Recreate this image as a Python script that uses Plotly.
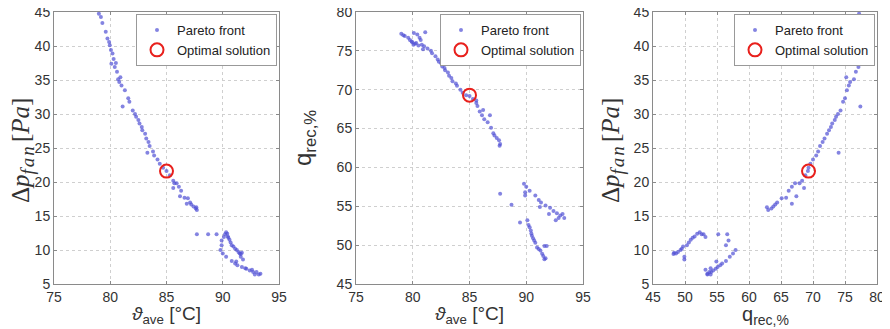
import plotly.graph_objects as go

# ---- data: Pareto front (each point: theta_ave, dp_fan, q_rec) ----
theta = [78.99, 79.17, 79.30, 79.60, 79.75, 79.90, 79.96, 80.06, 80.20, 80.30,
         80.10, 80.50, 80.40, 80.60, 80.70, 80.90, 80.80, 81.00, 81.30, 81.60,
         81.70, 81.10, 82.00, 82.20, 82.30, 82.50, 82.60, 82.80, 82.85, 83.10,
         83.20, 83.40, 83.50, 83.30, 83.80, 83.90, 84.20, 84.40, 84.70, 85.00,
         85.30, 85.60, 85.70, 85.90, 86.10, 85.60, 86.30, 86.20, 86.60, 86.90,
         86.80, 87.10, 87.20, 87.40, 87.60, 87.70, 87.65,
         87.70, 88.70, 89.45,
         89.90, 89.90, 89.80, 90.00, 90.30, 90.80, 91.10, 91.20, 91.30, 91.70,
         92.10, 92.00, 92.40, 92.70, 92.60, 93.00, 92.85, 93.20, 93.35,
         90.10, 90.20, 90.30, 90.40, 90.45, 90.50, 90.60, 90.70, 90.80, 90.95,
         91.10, 91.25, 91.40, 91.50, 91.70, 91.60, 91.60, 91.80]
dp_fan = [44.75, 44.26, 43.40, 42.10, 41.10, 40.60, 40.10, 39.40, 38.90, 38.10,
          37.40, 37.50, 36.90, 36.20, 35.10, 35.40, 34.70, 34.20, 33.50, 32.30,
          31.80, 31.10, 30.50, 30.00, 29.60, 29.10, 28.60, 28.10, 27.60, 27.10,
          26.40, 25.90, 25.30, 24.30, 24.50, 23.90, 23.30, 22.70, 22.10, 21.60,
          21.00, 20.20, 19.80, 19.80, 19.30, 19.10, 18.70, 17.90, 17.70, 17.60,
          16.80, 17.00, 16.70, 16.40, 16.10, 15.90, 16.30,
          12.30, 12.30, 12.30,
          11.40, 10.70, 10.00, 9.50, 9.00, 8.40, 8.00, 8.30, 7.75, 7.50,
          7.25, 7.30, 7.00, 6.75, 7.10, 6.75, 6.40, 6.40, 6.50,
          11.90, 12.30, 12.60, 12.40, 12.00, 11.80, 11.50, 11.10, 10.70, 10.50,
          10.20, 10.00, 9.70, 9.50, 9.60, 9.40, 9.00, 8.60]
q_rec = [77.2, 77.0, 76.9, 76.7, 76.4, 76.2, 76.1, 75.8, 75.9, 76.0,
         77.3, 75.7, 77.1, 76.7, 76.4, 75.2, 75.8, 75.6, 75.3, 75.0,
         74.7, 77.4, 74.3, 73.9, 73.6, 73.4, 73.0, 72.8, 72.5, 72.2,
         71.8, 71.5, 71.1, 74.0, 70.8, 70.5, 70.0, 69.6, 69.3, 69.2,
         68.8, 68.3, 67.9, 67.2, 66.7, 68.6, 66.2, 67.4, 65.8, 65.1,
         66.7, 64.4, 64.1, 63.8, 63.5, 63.0, 62.8,
         56.6, 55.2, 52.9,
         56.8, 56.4, 57.9, 57.5, 57.0, 56.4, 55.8, 54.9, 55.5, 55.1,
         54.8, 54.0, 54.4, 54.1, 53.2, 53.8, 53.5, 54.0, 53.5,
         53.2, 52.6, 52.3, 51.9, 51.5, 51.2, 50.9, 50.6, 50.3, 49.7,
         49.5, 49.3, 48.9, 48.6, 48.3, 48.2, 49.9, 49.9]

# optimal solution
opt_theta = [85.0]
opt_dp = [21.6]
opt_q = [69.3]

x_ticks_theta = [75, 80, 85, 90, 95]
x_ticks_q = [45, 50, 55, 60, 65, 70, 75, 80]
y_ticks_dp = [5, 10, 15, 20, 25, 30, 35, 40, 45]
y_ticks_q = [45, 50, 55, 60, 65, 70, 75, 80]

OFF = 8                      # default page margin of the html body
W, H = 890 - OFF, 329 - OFF
DOT = dict(color="rgba(80,80,212,0.7)", size=4)
RING = dict(color="#e8201c", size=13, symbol="circle-open",
            line=dict(color="#e8201c", width=2))
FONT = "Liberation Sans, Arial, sans-serif"
SERIF = "Liberation Serif, DejaVu Serif, serif"
TXT = "#333333"


def px(x):
    return (x - OFF) / W


def py(y):
    return (H - (y - OFF)) / H


panels = [
    (theta, dp_fan, opt_theta, opt_dp, "legend"),
    (theta, q_rec, opt_theta, opt_q, "legend2"),
    (q_rec, dp_fan, opt_q, opt_dp, "legend3"),
]

fig = go.Figure()
for i, (xs, ys, ox, oy, lg) in enumerate(panels):
    ax = "" if i == 0 else str(i + 1)
    fig.add_trace(go.Scatter(x=xs, y=ys, mode="markers", marker=DOT,
                             name="Pareto front", xaxis="x" + ax, yaxis="y" + ax,
                             legend=lg))
    fig.add_trace(go.Scatter(x=ox, y=oy, mode="markers", marker=RING,
                             name="Optimal solution", xaxis="x" + ax, yaxis="y" + ax,
                             legend=lg))

xdom = [(54, 279), (356, 583), (653, 877)]
ytop, ybot = 12, 284

axis_common = dict(showline=True, mirror="ticks", linecolor="#8a8a8a", linewidth=1,
                   showgrid=True, gridcolor="#cfcfcf", griddash="dot", gridwidth=1,
                   ticks="inside", ticklen=3, tickcolor="#8a8a8a",
                   tickfont=dict(family=FONT, size=14, color=TXT),
                   ticklabeloverflow="allow",
                   zeroline=False, automargin=False)

xlab_theta = "<i>ϑ</i><sub>ave</sub> [°C]"
xlab_q = "q<sub>rec,%</sub>"
ylab_dp = ("Δ<i>p</i><sub><span style='font-size:19px;letter-spacing:2px'><i>fan</i></span></sub>"
           "&#8202;[<i>Pa</i>]")
ylab_q = "q<sub>rec,%</sub>"

specs = [
    ([75, 95], x_ticks_theta, xlab_theta, FONT, 19, 315, [5, 45], y_ticks_dp, ylab_dp, SERIF, 25, 22, 151),
    ([75, 95], x_ticks_theta, xlab_theta, FONT, 19, 315, [45, 80], y_ticks_q, ylab_q, FONT, 24, 304, 138),
    ([45, 80], x_ticks_q, xlab_q, FONT, 20, 315, [5, 45], y_ticks_dp, ylab_dp, SERIF, 25, 612, 151),
]

layout = dict(width=W, height=H, margin=dict(l=0, r=0, t=0, b=0),
              paper_bgcolor="white", plot_bgcolor="white", showlegend=True)
annotations = []
for i, (xr, xt, xl, xf, xs, xly, yr, yt, yl, yf, ys, ylx, yly) in enumerate(specs):
    ax = "" if i == 0 else str(i + 1)
    layout["xaxis" + ax] = dict(axis_common, domain=[px(xdom[i][0]), px(xdom[i][1])],
                                range=xr, tickvals=xt, anchor="y" + ax)
    layout["yaxis" + ax] = dict(axis_common, domain=[py(ybot), py(ytop)], range=yr,
                                tickvals=yt, anchor="x" + ax)
    lg = "legend" if i == 0 else "legend" + str(i + 1)
    layout[lg] = dict(x=px(xdom[i][1] - 2), y=py(14), xanchor="right", yanchor="top",
                      bgcolor="white", bordercolor="#999999", borderwidth=1,
                      font=dict(family=FONT, size=13, color="#222222"),
                      itemsizing="trace", itemwidth=30, tracegroupgap=0)
    xc = (xdom[i][0] + xdom[i][1]) / 2
    annotations.append(dict(text=xl, x=px(xc), y=py(xly), xref="paper", yref="paper",
                            xanchor="center", yanchor="middle", showarrow=False,
                            font=dict(family=xf, size=xs, color=TXT)))
    annotations.append(dict(text=yl, x=px(ylx), y=py(yly), xref="paper", yref="paper",
                            xanchor="center", yanchor="middle", showarrow=False, textangle=-90,
                            font=dict(family=yf, size=ys, color=TXT)))

layout["annotations"] = annotations
fig.update_layout(**layout)
fig.write_html("out.html")
